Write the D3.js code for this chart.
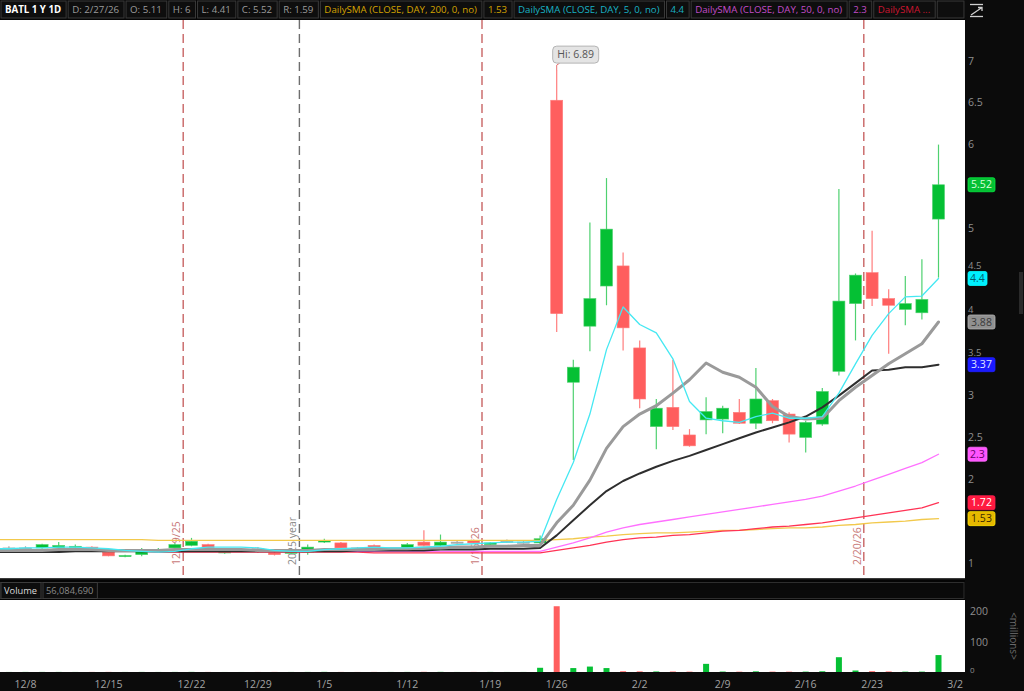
<!DOCTYPE html>
<html><head><meta charset="utf-8">
<script src="https://cdn.jsdelivr.net/npm/d3@7"></script>
<style>
html,body{margin:0;padding:0;background:#000;overflow:hidden;}
svg{display:block;font-family:"Open Sans",sans-serif;}
</style></head><body>
<svg id="c" width="1024" height="691"></svg>
<script>
// ---------------- DATA ----------------
const symbol = "BATL 1 Y 1D";
const lastDateLabel = "2/27/26";
const dates = ["12/4","12/5","12/8","12/9","12/10","12/11","12/12","12/15","12/16","12/17","12/18","12/19","12/22","12/23","12/24","12/26","12/29","12/30","12/31","1/2","1/5","1/6","1/7","1/8","1/9","1/12","1/13","1/14","1/15","1/16","1/20","1/21","1/22","1/23","1/26","1/27","1/28","1/29","1/30","2/2","2/3","2/4","2/5","2/6","2/9","2/10","2/11","2/12","2/13","2/17","2/18","2/19","2/20","2/23","2/24","2/25","2/26","2/27"];
const futureDates = ["3/2"];
const opens = [1.18,1.18,1.18,1.18,1.18,1.19,1.19,1.13,1.08,1.10,1.15,1.18,1.21,1.22,1.12,1.14,1.17,1.12,1.12,1.13,1.25,1.24,1.18,1.21,1.15,1.18,1.25,1.21,1.25,1.27,1.22,1.26,1.25,1.24,6.53,3.16,3.83,4.31,4.55,3.57,2.63,2.86,2.53,2.71,2.72,2.80,2.67,2.94,2.78,2.50,2.66,3.29,4.10,4.47,4.16,4.03,3.99,5.11];
const highs = [1.20,1.20,1.20,1.23,1.25,1.22,1.20,1.13,1.10,1.18,1.18,1.24,1.30,1.23,1.18,1.18,1.19,1.13,1.15,1.22,1.29,1.25,1.19,1.22,1.17,1.24,1.39,1.34,1.27,1.28,1.25,1.28,1.27,1.33,6.89,3.43,5.07,5.60,4.71,3.66,2.96,3.43,2.60,2.98,2.88,2.96,3.33,2.96,2.80,2.70,3.09,5.47,4.46,4.97,4.27,4.43,4.63,6.00];
const lows = [1.16,1.16,1.16,1.17,1.17,1.17,1.13,1.08,1.07,1.08,1.13,1.17,1.20,1.17,1.11,1.13,1.12,1.09,1.11,1.10,1.24,1.17,1.16,1.16,1.13,1.17,1.20,1.20,1.23,1.23,1.21,1.24,1.23,1.23,3.76,2.23,3.53,4.08,3.54,2.85,2.36,2.59,2.39,2.54,2.55,2.66,2.60,2.67,2.44,2.32,2.64,3.24,3.66,4.07,3.50,3.84,3.91,4.41];
const closes = [1.18,1.18,1.18,1.22,1.21,1.20,1.135,1.085,1.09,1.14,1.16,1.22,1.26,1.18,1.17,1.16,1.15,1.10,1.13,1.19,1.27,1.18,1.17,1.17,1.15,1.22,1.21,1.25,1.25,1.24,1.24,1.26,1.25,1.29,3.98,3.34,4.16,4.99,3.81,2.96,2.85,2.63,2.40,2.81,2.85,2.67,2.96,2.70,2.54,2.68,3.05,4.13,4.44,4.16,4.08,4.10,4.15,5.52];
// volume in millions
const volumes = [0.2,0.2,0.3,0.3,0.3,0.2,0.3,0.4,0.2,0.3,0.2,0.3,0.4,0.3,0.1,0.1,0.2,0.3,0.2,0.3,0.5,0.3,0.2,0.3,0.2,0.3,0.6,0.5,0.2,0.3,0.3,0.2,0.2,14,218,13,18,13,2.5,2,1.8,1.6,1.2,27,1.5,1.1,2.2,1.2,1.1,1.3,2.4,49,5,2.6,1.8,1.2,1.3,56.08469];
const sma5 = [1.17,1.17,1.18,1.18,1.19,1.19,1.18,1.17,1.15,1.14,1.13,1.14,1.17,1.19,1.19,1.19,1.18,1.15,1.14,1.14,1.16,1.17,1.18,1.19,1.18,1.18,1.19,1.20,1.22,1.23,1.24,1.25,1.25,1.26,1.76,2.20,2.78,3.55,4.06,3.85,3.75,3.44,2.93,2.73,2.70,2.68,2.75,2.79,2.73,2.73,2.75,3.03,3.38,3.72,3.98,4.18,4.19,4.40];
const sma10 = [1.15,1.15,1.15,1.15,1.16,1.16,1.16,1.15,1.15,1.15,1.15,1.16,1.16,1.16,1.16,1.16,1.15,1.15,1.15,1.15,1.16,1.16,1.16,1.16,1.17,1.17,1.18,1.18,1.19,1.19,1.20,1.20,1.21,1.21,1.48,1.69,1.99,2.37,2.63,2.78,2.88,3.03,3.19,3.39,3.28,3.22,3.10,2.87,2.75,2.72,2.73,2.94,3.10,3.24,3.38,3.50,3.62,3.88];
const sma20 = [1.13,1.13,1.13,1.13,1.13,1.14,1.14,1.14,1.14,1.14,1.14,1.14,1.14,1.14,1.14,1.14,1.14,1.14,1.14,1.14,1.14,1.14,1.15,1.15,1.15,1.15,1.15,1.16,1.16,1.16,1.17,1.17,1.17,1.18,1.33,1.51,1.69,1.86,1.98,2.07,2.15,2.22,2.28,2.35,2.42,2.49,2.56,2.62,2.68,2.75,2.86,3.00,3.15,3.30,3.31,3.34,3.34,3.37];
const sma50 = [1.15,1.15,1.15,1.15,1.15,1.15,1.15,1.15,1.14,1.14,1.14,1.14,1.14,1.14,1.14,1.14,1.14,1.14,1.14,1.14,1.14,1.14,1.14,1.14,1.14,1.14,1.14,1.14,1.14,1.14,1.14,1.14,1.14,1.14,1.19,1.24,1.30,1.37,1.42,1.46,1.49,1.52,1.55,1.58,1.61,1.64,1.67,1.70,1.73,1.76,1.80,1.86,1.92,1.99,2.06,2.13,2.20,2.30];
const sma100 = [1.14,1.14,1.14,1.14,1.14,1.14,1.14,1.14,1.14,1.14,1.13,1.13,1.13,1.13,1.13,1.13,1.13,1.13,1.13,1.13,1.13,1.13,1.13,1.12,1.12,1.12,1.12,1.12,1.12,1.12,1.12,1.12,1.12,1.12,1.15,1.18,1.21,1.25,1.28,1.30,1.31,1.33,1.34,1.36,1.38,1.39,1.41,1.43,1.44,1.46,1.48,1.51,1.54,1.57,1.60,1.63,1.66,1.72];
const sma200 = [1.28,1.28,1.28,1.28,1.28,1.28,1.28,1.28,1.28,1.28,1.27,1.27,1.27,1.27,1.27,1.27,1.27,1.27,1.27,1.27,1.27,1.27,1.27,1.27,1.27,1.27,1.27,1.27,1.27,1.27,1.27,1.27,1.27,1.27,1.28,1.29,1.31,1.32,1.34,1.35,1.36,1.36,1.37,1.38,1.39,1.39,1.40,1.41,1.42,1.42,1.43,1.45,1.46,1.48,1.49,1.50,1.52,1.53];
const priceTicks = [1,1.5,2,2.5,3,3.5,4,4.5,5,5.5,6,6.5,7];
const volumeTicks = [0,100,200];
// [label, trading day it sits on]
const dateTicks = [["12/8","12/8"],["12/15","12/15"],["12/22","12/22"],["12/29","12/29"],["1/5","1/5"],["1/12","1/12"],["1/19","1/20"],["1/26","1/26"],["2/2","2/2"],["2/9","2/9"],["2/16","2/17"],["2/23","2/23"],["3/2","3/2"]];
// vertical markers placed after the given trading day
const eventDays = ["12/19","12/31","1/16","2/20"];
const eventLabels = ["12/19/25","2025 year","1/16/26","2/20/26"];
const eventKinds = ["red","grey","red","red"];
const studyNames = ["DailySMA (CLOSE, DAY, 200, 0, no)","DailySMA (CLOSE, DAY, 5, 0, no)","DailySMA (CLOSE, DAY, 50, 0, no)","DailySMA ..."];

// ---------------- LAYOUT ----------------
const svg = d3.select("#c");
const W = 1024, H = 691;
const plotR = 965;
const mainTop = 20, mainBot = 578;
const volTop = 600, volBot = 672;
const GREEN = "#05c034", GREEN_W = "#4fd170", RED = "#ff5e5e", RED_W = "#ff7d7d", DOJI = "#a8a8a8";
const HDR_FS = 9.7;

svg.append("rect").attr("width",W).attr("height",H).attr("fill","#060606");

const allDates = dates.concat(futureDates);
const step = 16.6;
const x = d3.scalePoint().domain(allDates).range([25.5 - 2*step, 25.5 + (allDates.length-3)*step]);
const y = d3.scaleLinear().domain([0.8207, 7.489]).range([mainBot, mainTop]);
const yv = d3.scaleLinear().domain([0, 238.7]).range([volBot, volTop]);

// main plot
svg.append("rect").attr("x",0).attr("y",mainTop).attr("width",plotR).attr("height",mainBot-mainTop).attr("fill","#fff");
svg.append("rect").attr("x",0).attr("y",volTop).attr("width",plotR).attr("height",volBot-volTop).attr("fill","#fff");
svg.append("rect").attr("x",0).attr("y",mainBot).attr("width",plotR).attr("height",1.5).attr("fill","#3a3a3a");

const defs = svg.append("defs");
defs.append("clipPath").attr("id","mc").append("rect").attr("x",0).attr("y",mainTop).attr("width",plotR).attr("height",mainBot-mainTop);
defs.append("clipPath").attr("id","vc").append("rect").attr("x",0).attr("y",volTop).attr("width",plotR).attr("height",volBot-volTop);

const gm = svg.append("g").attr("clip-path","url(#mc)");

// event markers
eventDays.forEach((d,i)=>{
  const ex = x(d) + step/2;
  const red = eventKinds[i]==="red";
  gm.append("line").attr("x1",ex).attr("x2",ex).attr("y1",mainTop).attr("y2",mainBot)
    .attr("stroke", red ? "#c86464" : "#6e6e6e").attr("stroke-width",1.4).attr("stroke-dasharray","9,5");
  gm.append("text").attr("transform",`translate(${ex-3},${mainBot-13}) rotate(-90)`)
    .attr("font-size",10.5).attr("fill", red ? "#c87878" : "#8a8a8a").text(eventLabels[i]);
});

// candles
const candles = dates.map((d,i)=>({d, o:opens[i], h:highs[i], l:lows[i], c:closes[i], v:volumes[i]}));
const col = c => c.c > c.o ? GREEN : (c.c < c.o ? RED : DOJI);
const wcol = c => c.c > c.o ? GREEN_W : (c.c < c.o ? RED_W : DOJI);
const bw = 12;
const cg = gm.append("g");
cg.selectAll("line.w").data(candles).join("line").attr("class","w")
  .attr("x1",c=>x(c.d)).attr("x2",c=>x(c.d)).attr("y1",c=>y(c.h)).attr("y2",c=>y(c.l))
  .attr("stroke",wcol).attr("stroke-width",1.2);
cg.selectAll("rect.b").data(candles).join("rect").attr("class","b")
  .attr("x",c=>x(c.d)-bw/2).attr("width",bw)
  .attr("y",c=>y(Math.max(c.o,c.c)))
  .attr("height",c=>Math.max(1.2, y(Math.min(c.o,c.c)) - y(Math.max(c.o,c.c))))
  .attr("fill",col).attr("stroke",wcol).attr("stroke-width",0.6);

// studies
const studies = [
  {v:sma200, color:"#f2c94c", w:1.3, badge:"#e6b800", bt:"#3a2a00"},
  {v:sma100, color:"#ff3355", w:1.3, badge:"#ff1a40", bt:"#ffffff"},
  {v:sma50,  color:"#ff70ff", w:1.3, badge:"#ff55ff", bt:"#6a006a"},
  {v:sma20,  color:"#2e2e2e", w:2.0, badge:"#1a1aff", bt:"#e0e8ff"},
  {v:sma10,  color:"#9a9a9a", w:3.0, badge:"#909090", bt:"#3a3a3a"},
  {v:sma5,   color:"#45e8f2", w:1.3, badge:"#00f0ff", bt:"#006070"}
];
const line = d3.line().x((v,i)=>x(dates[i])).y(v=>y(v));
studies.forEach(s=>{
  gm.append("path").attr("d",line(s.v)).attr("fill","none").attr("stroke",s.color)
    .attr("stroke-width",s.w).attr("stroke-linejoin","round").attr("stroke-linecap","round");
});

// Hi callout
const hiIdx = d3.maxIndex(highs);
const hx = x(dates[hiIdx]), hy = y(highs[hiIdx]);
const hiTxt = "Hi: " + d3.format("~g")(highs[hiIdx]);
const cbx = hx - 4, cby = hy - 24, cbw = 46, cbh = 17;
svg.append("path").attr("d",`M${hx},${hy} L${hx},${cby+cbh+2} L${hx+3},${cby+cbh}`).attr("fill","none").attr("stroke","#e87070").attr("stroke-width",1);
svg.append("rect").attr("x",cbx).attr("y",cby).attr("width",cbw).attr("height",cbh).attr("rx",4)
  .attr("fill","#e4e4e4").attr("stroke","#b4b4b4").attr("stroke-width",1);
svg.append("text").attr("x",cbx+cbw/2).attr("y",cby+cbh/2).attr("dy","0.35em").attr("text-anchor","middle")
  .attr("font-size",10.5).attr("fill","#555").text(hiTxt);

// volume bars
const gv = svg.append("g").attr("clip-path","url(#vc)");
gv.selectAll("rect").data(candles).join("rect")
  .attr("x",c=>x(c.d)-3).attr("width",6)
  .attr("y",c=>yv(c.v)).attr("height",c=>volBot - yv(c.v))
  .attr("fill",c=> c.c < c.o ? RED : GREEN);

// ---------- right axis panel ----------
svg.append("rect").attr("x",plotR).attr("y",0).attr("width",W-plotR).attr("height",H).attr("fill","#0b0b0b");
svg.append("rect").attr("x",1019).attr("y",272).attr("width",4).attr("height",42).attr("fill","#2a2a2a");
const fmt = d3.format(".3~g");
const badgeItems = [{v:closes[closes.length-1], badge:GREEN, bt:"#d8ffd8"}].concat(studies.map(s=>({v:s.v[s.v.length-1], badge:s.badge, bt:s.bt})));
// tick labels fully covered by a value badge are not shown; ones just above a badge sit on its top edge
const visibleTicks = priceTicks.filter(t => !badgeItems.some(b => Math.abs(y(b.v) - y(t)) < 5));
const nearBadge = t => badgeItems.filter(b => y(b.v) > y(t) && y(b.v) - y(t) < 14);
const tickY = t => {
  const near = nearBadge(t);
  return near.length ? Math.min(y(t) + 3.7, d3.min(near, b => y(b.v)) - 9) : y(t) + 3.7;
};
svg.selectAll("text.pt").data(visibleTicks).join("text").attr("class","pt")
  .attr("x",plotR+3).attr("y",tickY).attr("font-size",t => nearBadge(t).length ? 9.5 : 10.5).attr("fill","#8e8e8e")
  .text(d3.format("~g"));
badgeItems.forEach(b=>{
  const t = fmt(b.v);
  const bwid = t.length > 3 ? 27 : 19;
  svg.append("rect").attr("x",plotR+3).attr("y",y(b.v)-7).attr("width",bwid).attr("height",14).attr("rx",2)
    .attr("fill",b.badge).attr("stroke",d3.color(b.badge).brighter(0.6)).attr("stroke-width",0.8);
  svg.append("text").attr("x",plotR+3+bwid/2).attr("y",y(b.v)).attr("dy","0.35em").attr("text-anchor","middle")
    .attr("font-size",10.5).attr("fill",b.bt).text(t);
});
svg.selectAll("text.vt").data(volumeTicks).join("text").attr("class","vt")
  .attr("x",plotR+5).attr("y",v=>yv(v)).attr("dy", v=> v===0 ? "0.1em" : "0.35em").attr("font-size",v=>v===0?8:10.5).attr("fill","#8e8e8e")
  .text(d=>d);
svg.append("text").attr("transform",`translate(1010,${(volTop+volBot)/2}) rotate(90)`).attr("text-anchor","middle")
  .attr("font-size",10).attr("fill","#6a6a6a").text("<millions>");

// ---------- bottom date axis ----------
svg.append("rect").attr("x",0).attr("y",volBot).attr("width",plotR).attr("height",H-volBot).attr("fill","#0b0b0b");
svg.selectAll("text.dt").data(dateTicks).join("text").attr("class","dt")
  .attr("x",d=>x(d[1])).attr("y",684).attr("dy","0.35em").attr("text-anchor","middle")
  .attr("font-size",10.5).attr("fill","#a2a2a2").text(d=>d[0]);

// ---------- volume header ----------
svg.append("rect").attr("x",0).attr("y",mainBot+1.5).attr("width",plotR).attr("height",volTop-mainBot-1.5).attr("fill","#050505");
svg.append("rect").attr("x",0).attr("y",582.5).attr("width",plotR-1).attr("height",16).attr("fill","#0a0a0a").attr("stroke","#2e2e2e");
const vh = svg.append("g");
let cx = 1;
[["Volume","#dcdcdc"],[d3.format(",")(Math.round(volumes[volumes.length-1]*1e6)),"#8a8a8a"]].forEach(([t,c])=>{
  const tx = vh.append("text").attr("x",cx+3).attr("y",591).attr("dy","0.35em").attr("font-size",9.3).attr("fill",c).text(t);
  const w = tx.node().getComputedTextLength()+7;
  vh.insert("rect","text").attr("x",cx).attr("y",582.5).attr("width",w).attr("height",16).attr("fill","#0d0d0d").attr("stroke","#3c3c3c");
  cx += w + 2;
});

// ---------- top header ----------
const f2 = d3.format("~g");
const last = candles[candles.length-1];
const headerCells = [
  {t:symbol, c:"#ffffff", b:true},
  {t:"D: "+lastDateLabel, c:"#9c9c9c"},
  {t:"O: "+f2(last.o), c:"#9c9c9c"},
  {t:"H: "+f2(last.h), c:"#9c9c9c"},
  {t:"L: "+f2(last.l), c:"#9c9c9c"},
  {t:"C: "+f2(last.c), c:"#9c9c9c"},
  {t:"R: "+f2(+(last.h-last.l).toFixed(2)), c:"#9c9c9c"},
  {t:studyNames[0], c:"#d4a300"},
  {t:fmt(sma200[sma200.length-1]), c:"#d4a300"},
  {t:studyNames[1], c:"#19b2c4"},
  {t:fmt(sma5[sma5.length-1]), c:"#19b2c4"},
  {t:studyNames[2], c:"#c24cc8"},
  {t:fmt(sma50[sma50.length-1]), c:"#c24cc8"},
  {t:studyNames[3], c:"#cc1530"}
];
svg.append("rect").attr("x",0).attr("y",0).attr("width",plotR).attr("height",mainTop).attr("fill","#050505");
const hg = svg.append("g");
cx = 1;
headerCells.forEach(h=>{
  const tx = hg.append("text").attr("x",cx+4).attr("y",10).attr("dy","0.35em").attr("font-size",HDR_FS)
    .attr("font-weight",h.b?"bold":"normal").attr("fill",h.c).text(h.t);
  const w = tx.node().getComputedTextLength()+9;
  hg.insert("rect","text").attr("x",cx).attr("y",1).attr("width",w).attr("height",17).attr("fill","#0e0e0e").attr("stroke","#3a3a3a");
  cx += w + 2;
});
hg.insert("rect","text").attr("x",cx).attr("y",1).attr("width",Math.max(0,plotR-1-cx)).attr("height",17).attr("fill","#0e0e0e").attr("stroke","#3a3a3a");
// icon top-right
const ic = svg.append("g").attr("stroke","#cfcfcf").attr("stroke-width",1.3).attr("fill","none");
ic.append("path").attr("d","M970,4.5 H983");
ic.append("path").attr("d","M971,15 L982,7.5 M978,7.5 H982 V11");
ic.append("path").attr("d","M970,16.5 H983");
</script>
</body></html>
